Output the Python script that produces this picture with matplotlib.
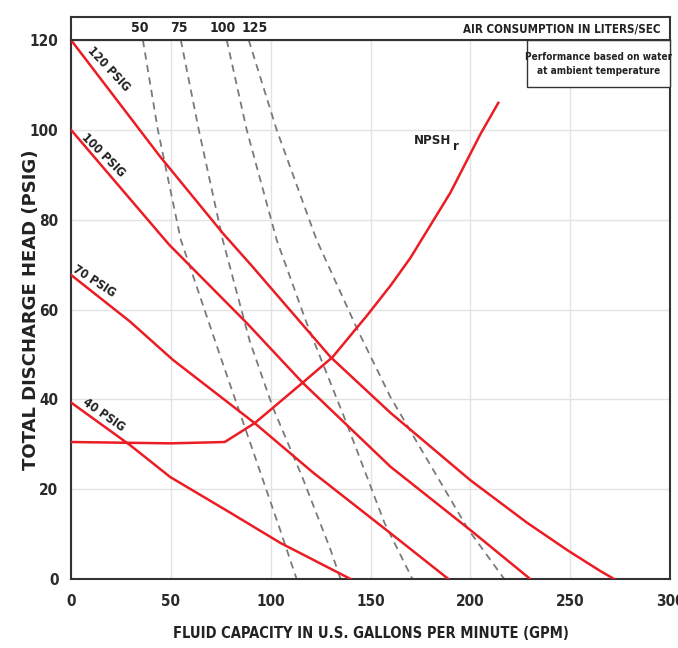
import matplotlib
matplotlib.use("Agg")
import matplotlib.pyplot as plt
from matplotlib.patches import Rectangle

# ---------------- data ----------------
psig_labels = ["120 PSIG", "100 PSIG", "70 PSIG", "40 PSIG"]
psig120_x = [0, 44.7, 76, 90, 130, 160, 200, 228.5, 249, 265, 272]
psig120_y = [120, 94, 77, 70, 49.4, 37, 22, 12.5, 6.3, 1.8, 0]
psig100_x = [0, 49, 88, 116, 160, 200, 230]
psig100_y = [100, 74.5, 57, 43.7, 25, 10.9, 0]
psig70_x = [0, 29.6, 51, 92, 121.5, 160, 189]
psig70_y = [67.7, 57.3, 48.8, 34.7, 23.6, 10.2, 0]
psig40_x = [0, 29.6, 49.7, 80, 105, 140]
psig40_y = [39.3, 29.8, 22.7, 14.7, 8, 0]

npsh_x = [0, 50, 77, 92, 116, 131, 148.5, 160, 170, 190, 205, 214]
npsh_y = [30.5, 30.2, 30.5, 34.7, 43.7, 49.4, 58.8, 65.3, 71.5, 86, 99, 106]

air_labels = ["50", "75", "100", "125"]
air50_x = [36, 43.5, 55, 75, 91, 105, 113]
air50_y = [120, 100, 75.5, 49.3, 28.7, 10.6, 0]
air75_x = [55, 64, 76, 89.5, 101, 116, 130, 135]
air75_y = [120, 100, 75.5, 53, 38.3, 22.5, 6.5, 0]
air100_x = [78, 88, 103, 118, 138, 157, 171]
air100_y = [120, 100, 75.5, 57, 34.7, 12.5, 0]
air125_x = [89, 103, 123, 143.5, 160, 199, 217]
air125_y = [120, 100, 75.5, 55.5, 40.5, 11, 0]

x_ticks = [0, 50, 100, 150, 200, 250, 300]
y_ticks = [0, 20, 40, 60, 80, 100, 120]

# ---------------- style ----------------
CF = dict(family="DejaVu Sans", stretch="condensed", weight="bold")
RED = "#ec1c24"
DARK = "#333333"
GREY = "#7a7a7a"
TXT = "#222222"

fig = plt.figure(figsize=(6.78, 6.48), dpi=100)
W, H = 678.0, 648.0
L, R, B, T = 71 / W, 670 / W, 1 - 579 / H, 1 - 40 / H
ax = fig.add_axes([L, B, R - L, T - B])
hax = fig.add_axes([L, T, R - L, (40 - 17) / H])

ax.set_xlim(0, 300)
ax.set_ylim(0, 120)
ax.set_xticks(x_ticks)
ax.set_yticks(y_ticks)
ax.grid(True, color="#e3e3e3", linewidth=1.0)
ax.set_axisbelow(True)
for s in ax.spines.values():
    s.set_color(DARK)
    s.set_linewidth(1.5)
ax.tick_params(length=0, labelsize=11, colors="#2a2a2a")
ax.tick_params(axis="x", pad=11)
ax.tick_params(axis="y", pad=9)
for lab in ax.get_xticklabels() + ax.get_yticklabels():
    lab.set_fontfamily("DejaVu Sans")
    lab.set_fontstretch("condensed")
    lab.set_fontweight("bold")

# dashed air consumption lines
for xs, ys in [(air50_x, air50_y), (air75_x, air75_y), (air100_x, air100_y), (air125_x, air125_y)]:
    ax.plot(xs, ys, color=GREY, linewidth=1.3, linestyle=(0, (4, 3)), zorder=2)

# performance curves
for xs, ys in [(psig120_x, psig120_y), (psig100_x, psig100_y), (psig70_x, psig70_y), (psig40_x, psig40_y)]:
    ax.plot(xs, ys, color=RED, linewidth=1.8, solid_joinstyle="round", zorder=3)
ax.plot(npsh_x, npsh_y, color=RED, linewidth=1.8, solid_joinstyle="round", zorder=3)

# curve labels
lab_pos = [(19, 113.6, -47), (16, 94.4, -45), (11.5, 66.4, -33), (16.5, 36.6, -35)]
for txt, (lx, ly, rot) in zip(psig_labels, lab_pos):
    ax.text(lx, ly, txt, rotation=rot, ha="center", va="center", fontsize=8.8,
            color=TXT, rotation_mode="anchor", **CF)
ax.text(190.5, 97.6, "NPSH", ha="right", va="center", fontsize=9.5, color=TXT, **CF)
ax.text(191.5, 96.4, "r", ha="left", va="center", fontsize=9.5, color=TXT, **CF)

# performance note box
bx0 = (527 - 71) / 599.0
by0 = 1 - (87 - 40) / 539.0
ax.add_patch(Rectangle((bx0, by0), 1 - bx0, 1 - by0, transform=ax.transAxes,
                       facecolor="white", edgecolor=DARK, linewidth=1.0, zorder=5,
                       clip_on=False))
ax.text((bx0 + 1) / 2, (by0 + 1) / 2, "Performance based on water\nat ambient temperature",
        transform=ax.transAxes, ha="center", va="center", fontsize=7.2,
        color=TXT, linespacing=1.5, zorder=6, **CF)

ax.set_xlabel("FLUID CAPACITY IN U.S. GALLONS PER MINUTE (GPM)", fontsize=10.5,
              color=TXT, **CF)
ax.xaxis.set_label_coords(0.5, -(633 - 579) / 539.0)
ax.xaxis.label.set_va("center")
ax.set_ylabel("TOTAL DISCHARGE HEAD (PSIG)", fontsize=13, fontweight="bold",
              color=TXT, family="DejaVu Sans")
ax.yaxis.set_label_coords(-(71 - 31) / 599.0, 0.5)
ax.yaxis.label.set_va("center")

# header box
hax.set_xlim(0, 300)
hax.set_ylim(0, 1)
hax.set_xticks([])
hax.set_yticks([])
for s in hax.spines.values():
    s.set_color(DARK)
    s.set_linewidth(1.5)
hdr_shift = [-1.4, -1, -2, 3]
for txt, xs, dx in zip(air_labels, [air50_x, air75_x, air100_x, air125_x], hdr_shift):
    hax.text(xs[0] + dx, 0.5, txt, ha="center", va="center", fontsize=10,
             color=TXT, **CF)
hax.text(295, 0.5, "AIR CONSUMPTION IN LITERS/SEC", ha="right", va="center",
         fontsize=8.3, color=TXT, **CF)

fig.savefig("out.png", dpi=100)
